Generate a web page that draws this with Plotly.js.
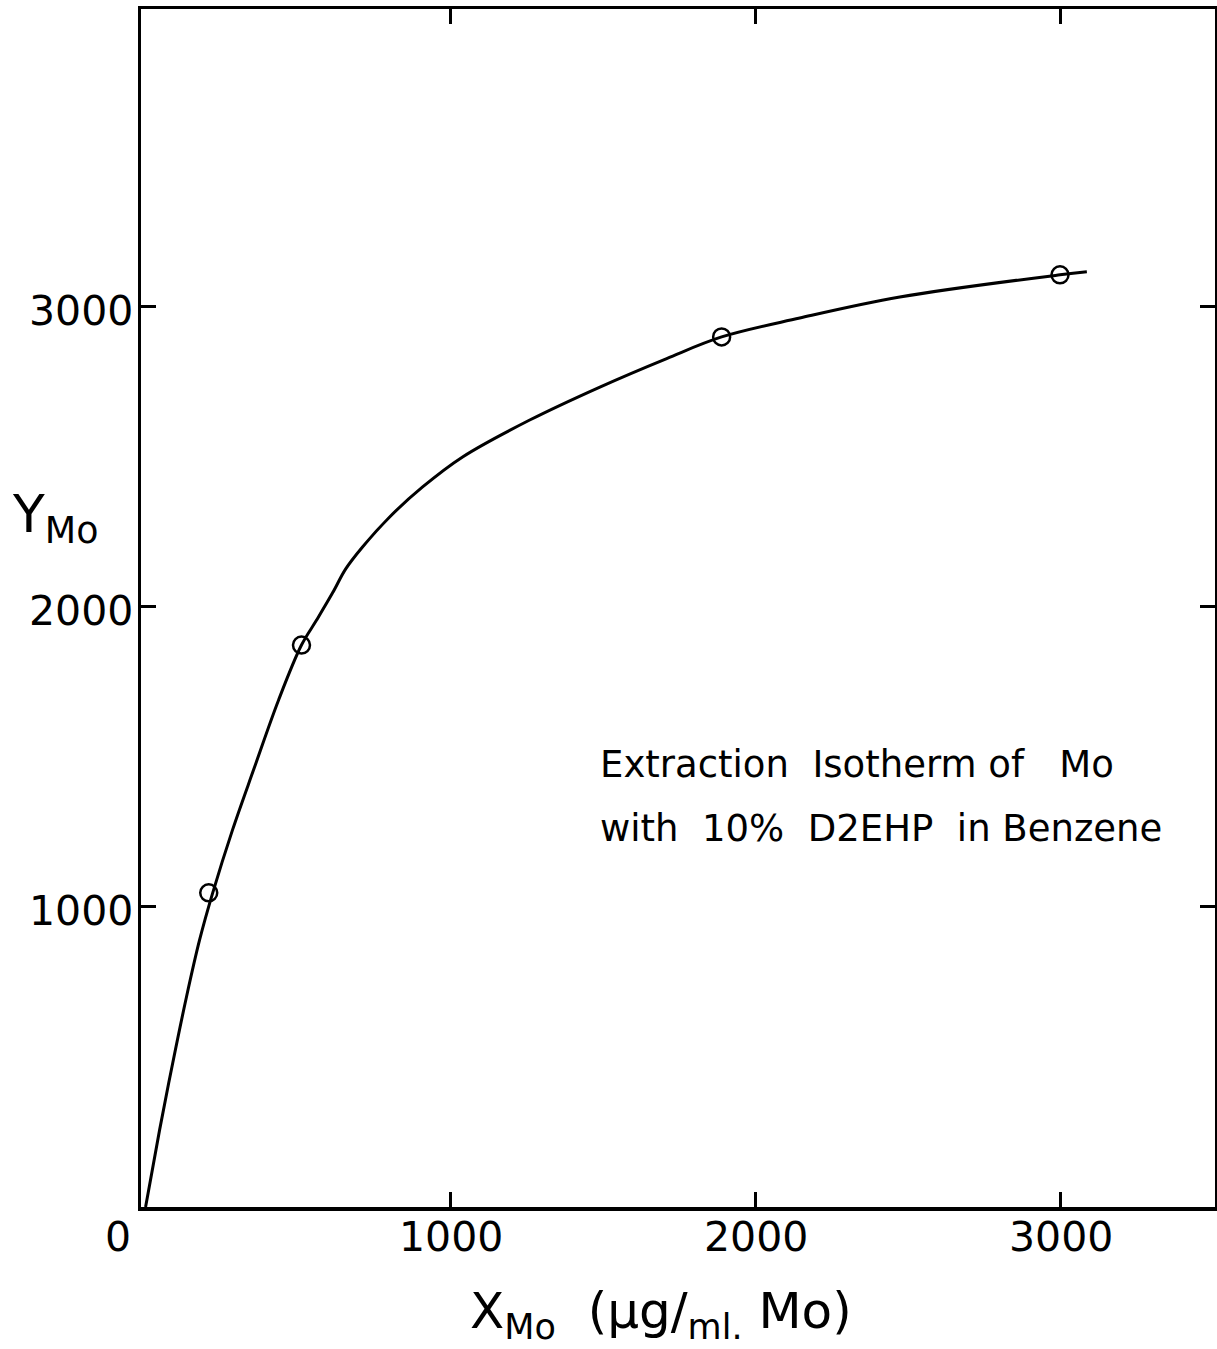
<!DOCTYPE html>
<html>
<head>
<meta charset="utf-8">
<script src="https://cdn.plot.ly/plotly-3.0.1.min.js"></script>
<style>
html,body{margin:0;padding:0;background:#fff;}
#chart{width:1217px;height:1349px;}
</style>
</head>
<body>
<div id="chart"></div>
<script>
// Measured points (X_Mo, Y_Mo)
const pointX = [207, 511, 1888, 2997];
const pointY = [1047, 1873, 2900, 3107];

// Hand-drawn isotherm curve
const curveX = [0, 46, 89, 134, 177, 220, 285, 354, 436, 511, 561, 613, 656, 711, 800, 908, 1039, 1259, 1489, 1708, 1888, 2144, 2472, 2997, 3085];
const curveY = [0, 257, 480, 700, 890, 1047, 1257, 1457, 1690, 1873, 1957, 2047, 2127, 2200, 2300, 2400, 2500, 2623, 2733, 2828, 2900, 2963, 3033, 3107, 3117];

const tickValues = [1000, 2000, 3000];
const tickLabels = ['1000', '2000', '3000'];
const originLabel = '0';

const FONT = 'DejaVu Sans, sans-serif';
const TICKFONT = {family: FONT, size: 41, color: '#000'};

const traces = [
  {
    x: curveX, y: curveY, type: 'scatter', mode: 'lines',
    line: {color: '#000', width: 3, shape: 'spline', smoothing: 1},
    hoverinfo: 'skip', showlegend: false
  },
  {
    x: pointX, y: pointY, type: 'scatter', mode: 'markers',
    marker: {symbol: 'circle-open', size: 17, color: '#000', line: {color: '#000', width: 2.5}},
    showlegend: false
  }
];

const axisCommon = {
  showline: true, linecolor: '#000', linewidth: 3.5, mirror: 'ticks',
  ticks: 'inside', ticklen: 15, tickwidth: 3, tickcolor: '#000',
  showgrid: false, zeroline: false,
  tickmode: 'array', tickvals: tickValues, ticktext: tickLabels,
  showticklabels: false
};

// Tick labels placed from the tick arrays, tied to the axis scales
const xTickAnn = tickValues.map((v, i) => ({
  text: tickLabels[i], xref: 'x', yref: 'paper', x: v, y: -0.025,
  xanchor: 'center', yanchor: 'middle', showarrow: false, font: TICKFONT
}));
const yTickAnn = tickValues.map((v, i) => ({
  text: tickLabels[i], xref: 'paper', yref: 'y', x: -0.0056, y: v, yshift: -4,
  xanchor: 'right', yanchor: 'middle', showarrow: false, font: TICKFONT
}));

const layout = {
  width: 1217, height: 1349,
  margin: {l: 141, r: 2, t: 9, b: 142},
  paper_bgcolor: '#fff', plot_bgcolor: '#fff',
  xaxis: Object.assign({}, axisCommon, {range: [-15, 3505]}),
  yaxis: Object.assign({}, axisCommon, {range: [0, 3993]}),
  font: {family: FONT, color: '#000'},
  annotations: xTickAnn.concat(yTickAnn).concat([
    {text: originLabel, xref: 'paper', yref: 'paper', x: -0.0214, y: -0.025,
     xanchor: 'center', yanchor: 'middle', showarrow: false, font: TICKFONT},
    {text: 'Y<sub>Mo</sub>', xref: 'paper', yref: 'paper', x: -0.122, y: 0.575,
     xanchor: 'left', yanchor: 'middle', showarrow: false,
     font: {family: FONT, size: 52, color: '#000'}},
    {text: 'X<sub>Mo</sub>  (µg/<sub>ml.</sub> Mo)', xref: 'paper', yref: 'paper', x: 0.484, y: -0.09,
     xanchor: 'center', yanchor: 'middle', showarrow: false,
     font: {family: FONT, size: 50, color: '#000'}},
    {text: 'Extraction  Isotherm of   Mo', xref: 'paper', yref: 'paper', x: 0.4255, y: 0.369,
     xanchor: 'left', yanchor: 'middle', showarrow: false,
     font: {family: FONT, size: 37, color: '#000'}},
    {text: 'with  10%  D2EHP  in Benzene', xref: 'paper', yref: 'paper', x: 0.4255, y: 0.316,
     xanchor: 'left', yanchor: 'middle', showarrow: false,
     font: {family: FONT, size: 37, color: '#000'}}
  ])
};

Plotly.newPlot('chart', traces, layout, {staticPlot: true, displayModeBar: false});
</script>
</body>
</html>
